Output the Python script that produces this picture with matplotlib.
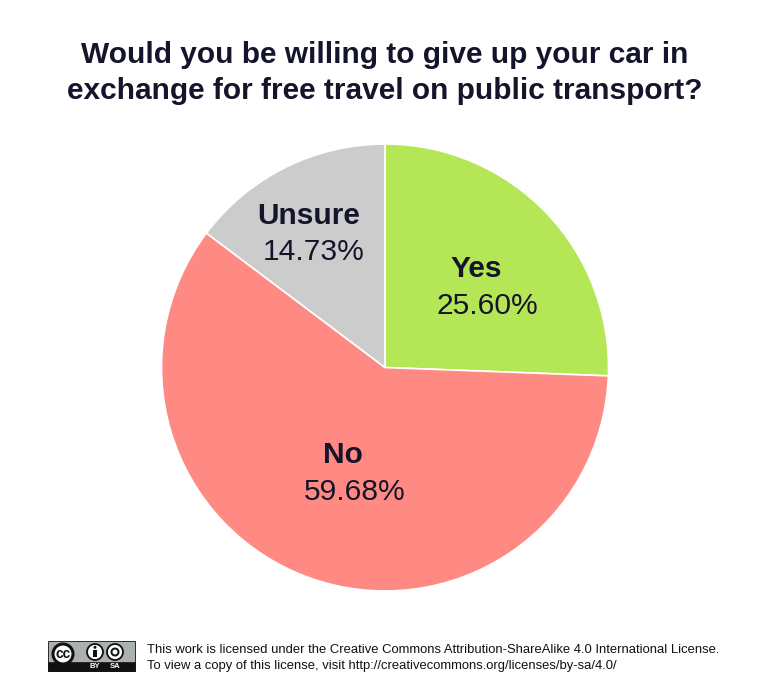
import matplotlib
matplotlib.use("Agg")
import matplotlib.pyplot as plt
from matplotlib.patches import Circle, Rectangle

labels = ["Yes", "No", "Unsure"]
values = [25.60, 59.68, 14.73]
value_text = ["25.60%", "59.68%", "14.73%"]
colors = ["#b5e655", "#ff8a84", "#cccccc"]

title = "Would you be willing to give up your car in\nexchange for free travel on public transport?"
licence = ["This work is licensed under the Creative Commons Attribution-ShareAlike 4.0 International License.",
           "To view a copy of this license, visit http://creativecommons.org/licenses/by-sa/4.0/"]

plt.rcParams['font.family'] = ['Liberation Sans', 'DejaVu Sans']
W, H = 770, 684
ink = "#14142b"

fig = plt.figure(figsize=(W / 100, H / 100), dpi=100, facecolor="white")

# pie centre 385,367.5 radius 223.5 in pixels
ax = fig.add_axes([(385 - 223.5) / W, 1 - (367.5 + 223.5) / H, 447 / W, 447 / H])
wedges, _ = ax.pie(values, colors=colors, startangle=90, counterclock=False, radius=1,
                   wedgeprops={"edgecolor": "white", "linewidth": 1.2})
ax.set_xlim(-1, 1)
ax.set_ylim(-1, 1)

def px(x, y):
    return x / W, 1 - y / H

fig.text(*px(385, 73), title, ha="center", va="center", fontsize=21.5, fontweight="bold",
         color=ink, linespacing=1.36)

name_pos = [(476, 269), (343, 455), (309, 216)]
val_pos = [(487.5, 306), (354.5, 492), (313.5, 252)]
for n, v, np_, vp in zip(labels, value_text, name_pos, val_pos):
    fig.text(*px(*np_), n, ha="center", va="center", fontsize=21.5, fontweight="bold", color=ink)
    fig.text(*px(*vp), v, ha="center", va="center", fontsize=21.6, color=ink)

fig.text(*px(147, 650), licence[0], ha="left", va="center", fontsize=9.38, color="#111111")
fig.text(*px(147, 665.5), licence[1], ha="left", va="center", fontsize=9.38, color="#111111")

# CC badge
ov = fig.add_axes([0, 0, 1, 1], facecolor="none")
ov.set_xlim(0, W)
ov.set_ylim(H, 0)
ov.axis("off")
ov.add_patch(Rectangle((48, 641), 87, 30, fc="#aab2ab", ec="#111111", lw=0.6))
ov.add_patch(Rectangle((48, 662), 87, 9, fc="#111111", ec="#111111", lw=0.5))
ov.add_patch(Circle((63, 654), 10, fc="white", ec="#111111", lw=2.2))
ov.text(63, 654, "cc", ha="center", va="center", fontsize=10, fontweight="bold", color="#111111")
ov.add_patch(Circle((95, 652), 8, fc="white", ec="#111111", lw=1.3))
ov.add_patch(Circle((115, 652), 8, fc="white", ec="#111111", lw=1.3))
ov.add_patch(Rectangle((93.3, 649.5), 3.4, 7, fc="#111111", ec="none"))
ov.add_patch(Circle((95, 647.3), 1.5, fc="#111111", ec="none"))
ov.add_patch(Circle((115, 652), 3.5, fc="none", ec="#111111", lw=1.4))
ov.text(95, 667, "BY", ha="center", va="center", fontsize=5.5, fontweight="bold", color="white")
ov.text(115, 667, "SA", ha="center", va="center", fontsize=5.5, fontweight="bold", color="white")

fig.savefig("out.png", dpi=100)
